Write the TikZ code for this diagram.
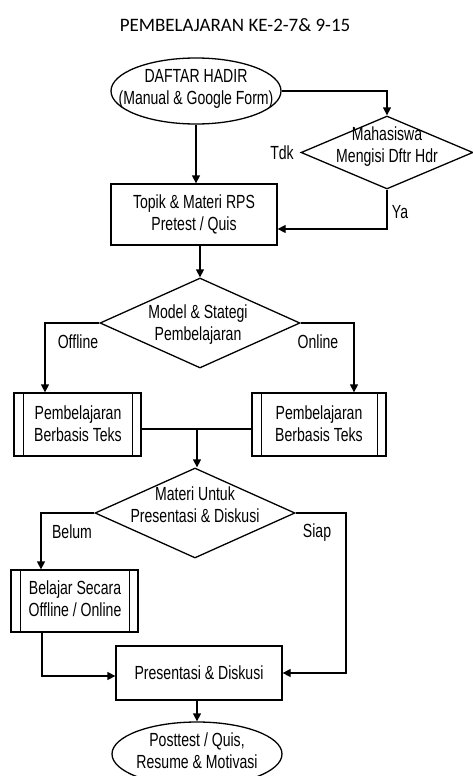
\documentclass[tikz,border=0pt]{standalone}
\usepackage{fontspec}
\setmainfont{Liberation Sans}[FakeStretch=0.74]
\newfontfamily\titlefont{Carlito}
\usetikzlibrary{arrows.meta,shapes.geometric,positioning}

\tikzset{
  terminal/.style={ellipse,draw,line width=1.3pt,minimum width=170,minimum height=66,inner sep=0pt},
  decision/.style={diamond,draw,line width=1.3pt,inner sep=0pt},
  process/.style={rectangle,draw,line width=1.3pt,inner sep=0pt,align=center},
  subproc/.style={process,path picture={
      \draw[line width=1.3pt] ([xshift=9.5pt]path picture bounding box.north west) -- ([xshift=9.5pt]path picture bounding box.south west);
      \draw[line width=1.3pt] ([xshift=-8.5pt]path picture bounding box.north east) -- ([xshift=-8.5pt]path picture bounding box.south east);}},
  txt/.style={align=center,inner sep=0pt},
  arr/.style={line width=1.3pt,-{Triangle[length=8pt,width=8pt]}},
  line/.style={line width=1.3pt}
}

\begin{document}
\begin{tikzpicture}[x=1pt,y=-1pt,font=\fontsize{19}{22}\selectfont]
\useasboundingbox (0,0) rectangle (472,776);

\node[font=\titlefont\fontsize{19}{22}\selectfont] (judul) at (235,25) {PEMBELAJARAN KE-2-7\& 9-15};

% shapes
\node[terminal] (hadir) at (196,91) {};
\node[decision,minimum width=172,minimum height=73] (mengisi) at (387,152.5) {};
\node[process,minimum width=166,minimum height=61] (topik) at (194,214.5) {Topik \& Materi RPS\\Pretest / Quis};
\node[decision,minimum width=200,minimum height=90] (model) at (200,323) {};
\node[subproc,minimum width=127,minimum height=63] (teks offline) at (77.5,424.5) {};
\node[subproc,minimum width=134,minimum height=63] (teks online) at (319,424.5) {};
\node[decision,minimum width=200,minimum height=90] (materi) at (195,513) {};
\node[subproc,minimum width=127,minimum height=62] (belajar) at (74.5,601) {};
\node[process,minimum width=166,minimum height=54] (presentasi) at (199,673) {Presentasi \& Diskusi};
\node[terminal,minimum height=64] (posttest) at (197,754) {};

% texts
\node[txt] (hadir text) at (196,89) {DAFTAR HADIR\\(Manual \& Google Form)};
\node[txt] (mengisi text) at (387,147) {Mahasiswa\\Mengisi Dftr Hdr};
\node[txt] (model text) at (198,325) {Model \& Stategi\\Pembelajaran};
\node[txt] (teks offline text) at (78,424) {Pembelajaran\\Berbasis Teks};
\node[txt] (teks online text) at (319,424) {Pembelajaran\\Berbasis Teks};
\node[txt] (materi text) at (195,505) {Materi Untuk\\Presentasi \& Diskusi};
\node[txt] (belajar text) at (75,599) {Belajar Secara\\Offline / Online};
\node[txt] (posttest text) at (197,751) {Posttest / Quis,\\Resume \& Motivasi};

% labels
\node[txt] (tdk) at (282,153) {Tdk};
\node[txt] (ya) at (400,212) {Ya};
\node[txt] (offline) at (78,342) {Offline};
\node[txt] (online) at (318,342) {Online};
\node[txt] (belum) at (72,532) {Belum};
\node[txt] (siap) at (317,533) {Siap};

% turning points
\coordinate (ya turn) at (387,229);
\coordinate (offline turn) at (45,323);
\coordinate (online turn) at (354,323);
\coordinate (join) at (197,429);
\coordinate (belum turn) at (41,513);
\coordinate (siap turn) at (346,513);
\coordinate (belajar turn) at (42,676);

% connectors
\draw[arr] (hadir.east) -| (mengisi.north);
\draw[arr] (hadir.south) -- (hadir.south |- topik.north);
\draw[arr] (mengisi.south) -- (ya turn) -- (topik.east |- ya turn);
\draw[arr] (topik.south -| model.north) -- (model.north);
\draw[arr] (model.west) -- (offline turn) -- (offline turn |- teks offline.north);
\draw[arr] (model.east) -- (online turn) -- (online turn |- teks online.north);
\draw[line] (teks offline.east |- join) -- (teks online.west |- join);
\draw[arr] (join) -- (join |- materi.north);
\draw[arr] (materi.west) -- (belum turn) -- (belum turn |- belajar.north);
\draw[arr] (materi.east) -- (siap turn) |- (presentasi.east);
\draw[arr] (belajar.south -| belajar turn) -- (belajar turn) -- (presentasi.west |- belajar turn);
\draw[arr] (presentasi.south -| posttest.north) -- (posttest.north);
\end{tikzpicture}
\end{document}
